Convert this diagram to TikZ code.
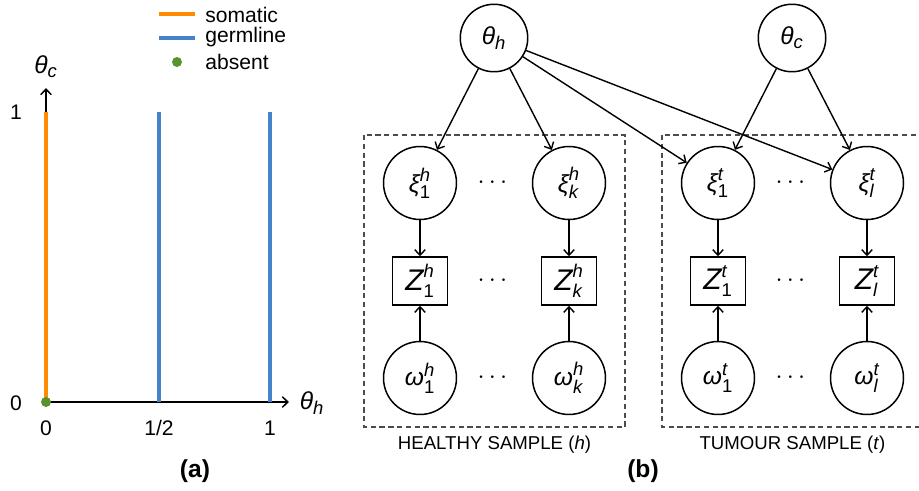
\documentclass[tikz,border=0pt]{standalone}
\usepackage{fontspec}
\setmainfont{Liberation Sans}
\usepackage{amsmath}
\usetikzlibrary{arrows,arrows.meta,positioning}
\definecolor{somaticorange}{RGB}{255,140,0}
\definecolor{germblue}{RGB}{68,131,202}
\definecolor{absentgreen}{RGB}{88,148,45}
\newcommand{\scr}{\fontsize{10.5}{12}\selectfont}
\newcommand{\gv}[3]{$\text{\itshape #1}^{\text{\scr\itshape #2}}_{\text{\scr #3}}$}
\newcommand{\gs}[2]{$\text{\itshape #1}_{\text{\scr\itshape #2}}$}
\tikzset{
  latent/.style={circle,draw,line width=0.85pt,minimum size=1.46cm,inner sep=0pt,font=\fontsize{14}{16}\selectfont},
  param/.style={latent,minimum size=1.35cm},
  obs/.style={rectangle,draw,line width=0.85pt,minimum width=1.1cm,minimum height=0.96cm,inner sep=0pt,font=\fontsize{17}{19}\selectfont},
  plate/.style={draw=black!70,dash pattern=on 3pt off 2pt,line width=0.6pt},
  edge/.style={->,line width=0.8pt},
  dotsep/.style={font=\fontsize{15}{17}\selectfont},
  somatic/.style={somaticorange,line width=2.3pt},
  germline/.style={germblue,line width=2.3pt},
  caption/.style={font=\fontsize{14}{16}\selectfont\bfseries},
}
\begin{document}
\begin{tikzpicture}[x=0.02cm,y=-0.02cm,font=\fontsize{12}{14}\selectfont,>={Straight Barb[length=3.2pt,width=6pt]}]
\useasboundingbox (0,0) rectangle (919,490);
% (a) the two fractions
\coordinate (o) at (46,402);
\coordinate (ytip) at (46,88);
\coordinate (xtip) at (289,402);
\draw[->,line width=0.85pt] (o) -- (ytip);
\draw[->,line width=0.85pt] (o) -- (xtip);
\draw[somatic] (o) -- (46,112);
\draw[germline] (159,402) -- (159,112);
\draw[germline] (270,402) -- (270,112);
\fill[absentgreen] (o) circle (5);
\node[font=\fontsize{14}{16}\selectfont] (thc) at (46,67) {\gs{θ}{c}};
\node[font=\fontsize{14}{16}\selectfont] (thx) at (312,403) {\gs{θ}{h}};
\node (y1) at (16,112) {1};
\node (y0) at (16,403) {0};
\node (x0) at (46,428) {0};
\node (xhalf) at (159,428) {1/2};
\node (x1) at (270,428) {1};
% legend
\draw[somatic] (159,14) -- (195,14);
\draw[germline] (159,38) -- (195,38);
\fill[absentgreen] (177,62) circle (5);
\node[anchor=west,inner sep=0pt] (lsom) at (205,15) {somatic};
\node[anchor=west,inner sep=0pt] (lgerm) at (205,37) {germline};
\node[anchor=west,inner sep=0pt] (labs) at (205,62) {absent};
\node[caption] (capa) at (195,471) {(a)};
% (b) the model
\draw[plate] (364,135) rectangle (625,427);
\draw[plate] (662,135) rectangle (923,427);
\node[font=\fontsize{10.6}{12}\selectfont] (hlab) at (494.5,445) {HEALTHY SAMPLE (\textit{h})};
\node[font=\fontsize{10.6}{12}\selectfont] (tlab) at (792.5,445) {TUMOUR SAMPLE (\textit{t})};
\node[param] (th) at (494,38) {\gs{θ}{h}};
\node[param] (tc) at (792,38) {\gs{θ}{c}};
\foreach \x/\s/\i/\n in {420/h/1/h1,569/h/{\itshape k}/hk,718/t/1/t1,867/t/{\itshape l}/tl}{
  \node[latent] (xi\n) at (\x,183) {\gv{ξ}{\s}{\i}};
  \node[obs] (z\n) at (\x,281) {\gv{Z}{\s}{\i}};
  \node[latent] (om\n) at (\x,378) {\gv{ω}{\s}{\i}};
  \draw[edge] (xi\n) -- (z\n);
  \draw[edge] (om\n) -- (z\n);
}
\foreach \y in {183,281,378}{
  \node[dotsep] (dh\y) at (494.5,\y) {$\cdots$};
  \node[dotsep] (dt\y) at (792.5,\y) {$\cdots$};
}
\foreach \t in {xih1,xihk,xit1,xitl} \draw[edge] (th) -- (\t);
\foreach \t in {xit1,xitl} \draw[edge] (tc) -- (\t);
\node[caption] (capb) at (643,471) {(b)};
\end{tikzpicture}
\end{document}
